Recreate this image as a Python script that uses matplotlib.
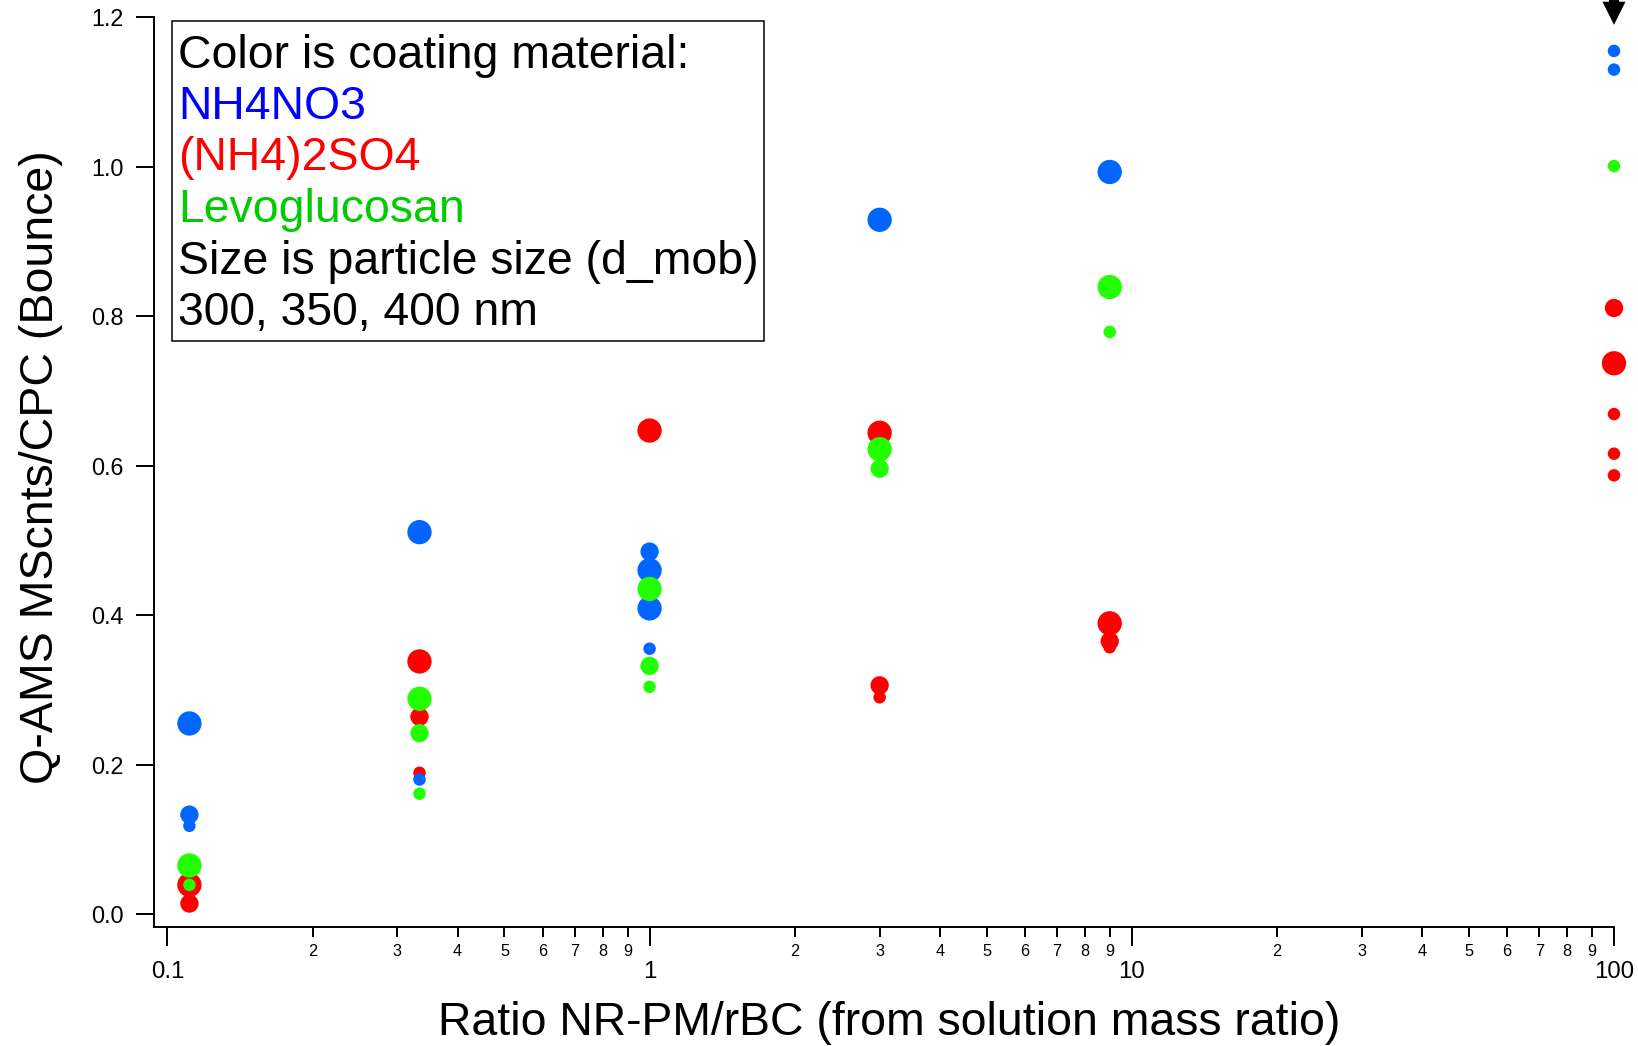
import numpy as np
import matplotlib
matplotlib.use("Agg")
import matplotlib.pyplot as plt
from matplotlib.patches import Rectangle
from matplotlib.ticker import LogLocator, FuncFormatter, MultipleLocator

plt.rcParams["font.family"] = ["Liberation Sans", "DejaVu Sans"]

# ---------------------------------------------------------------------------
# Data: ratio NR-PM/rBC, bounce value, particle size (nm)
# ---------------------------------------------------------------------------
nh4no3_ratio = [1/9, 1/9, 1/9, 1/3, 1/3, 1, 1, 1, 1, 3, 9, 100, 100]
nh4no3_bounce = [0.255, 0.133, 0.118, 0.511, 0.180, 0.485, 0.460, 0.409,
                 0.355, 0.929, 0.993, 1.155, 1.130]
nh4no3_dmob = [400, 350, 300, 400, 300, 350, 400, 400, 300, 400, 400, 300, 300]

ammsulf_ratio = [1/9, 1/9, 1/3, 1/3, 1/3, 1, 3, 3, 3, 9, 9, 9,
                 100, 100, 100, 100, 100]
ammsulf_bounce = [0.039, 0.014, 0.338, 0.264, 0.189, 0.647, 0.644, 0.306,
                  0.290, 0.389, 0.365, 0.357, 0.811, 0.737, 0.669, 0.616, 0.587]
ammsulf_dmob = [400, 350, 400, 350, 300, 400, 400, 350, 300, 400, 350, 300,
                350, 400, 300, 300, 300]

levo_ratio = [1/9, 1/9, 1/3, 1/3, 1/3, 1, 1, 1, 3, 3, 9, 9, 100]
levo_bounce = [0.065, 0.039, 0.288, 0.242, 0.161, 0.435, 0.332, 0.304,
               0.622, 0.596, 0.839, 0.779, 1.001]
levo_dmob = [400, 300, 400, 350, 300, 400, 350, 300, 400, 350, 400, 300, 300]

legend_lines = ["Color is coating material:", "NH4NO3", "(NH4)2SO4",
                "Levoglucosan", "Size is particle size (d_mob)", "300, 350, 400 nm"]

# marker diameter (points) for each particle size
marker_diam = {300: 9.0, 350: 13.2, 400: 17.5}

W, H = 1638, 1046
fig = plt.figure(figsize=(W / 100, H / 100), dpi=100)
ax = fig.add_axes([153.5 / W, 1 - 927.3 / H, (1614 - 153.5) / W, (927.3 - 17.3) / H])

# draw order: red, blue, green (green sits on top in the original)
series = [
    (ammsulf_ratio, ammsulf_bounce, ammsulf_dmob, "#FF0000"),
    (nh4no3_ratio, nh4no3_bounce, nh4no3_dmob, "#0066FF"),
    (levo_ratio, levo_bounce, levo_dmob, "#22FF00"),
]
for i, (xs, ys, ds, col) in enumerate(series):
    sizes = [marker_diam[d] ** 2 for d in ds]
    ax.scatter(xs, ys, s=sizes, c=col, edgecolors="none", clip_on=False,
               zorder=3 + i)

ax.set_xscale("log")
ax.set_xlim(0.0936, 100)
ax.set_ylim(-0.0178, 1.2)

for side in ("top", "right"):
    ax.spines[side].set_visible(False)
for side in ("left", "bottom"):
    ax.spines[side].set_linewidth(1.4)

ax.yaxis.set_major_locator(MultipleLocator(0.2))
ax.yaxis.set_major_formatter(FuncFormatter(lambda v, p: "%.1f" % v))
ax.xaxis.set_major_locator(LogLocator(base=10, numticks=12))
ax.xaxis.set_major_formatter(FuncFormatter(lambda v, p: "%g" % v))
ax.xaxis.set_minor_locator(LogLocator(base=10, subs=np.arange(2, 10), numticks=12))
ax.xaxis.set_minor_formatter(
    FuncFormatter(lambda v, p: "%d" % round(v / 10 ** np.floor(np.log10(v) + 1e-9))))

ax.tick_params(axis="y", which="major", direction="out", length=13, width=1.4,
               pad=8.4, labelsize=16.8)
ax.tick_params(axis="x", which="major", direction="out", length=13.7, width=1.4,
               pad=10.5, labelsize=17.3)
ax.tick_params(axis="x", which="minor", direction="out", length=7.2, width=1.4,
               pad=4.5, labelsize=11.7)

ax.set_xlabel("Ratio NR-PM/rBC (from solution mass ratio)", fontsize=33.4,
              va="baseline")
ax.xaxis.set_label_coords(0.504, -0.1184)
ax.set_ylabel("Q-AMS MScnts/CPC (Bounce)", fontsize=33.5, va="center")
ax.yaxis.set_label_coords(-0.077, 0.506)

# arrow at the top right
ax.annotate("", xy=(100, 1.19), xytext=(100, 1.226), annotation_clip=False,
            arrowprops=dict(arrowstyle="simple,head_width=0.83,head_length=0.83,tail_width=0.36",
                            fc="black", ec="none", shrinkA=0, shrinkB=0,
                            mutation_scale=20))

# text box with colored lines
box = Rectangle((172.4 / W, 1 - 340.6 / H), (763.7 - 172.4) / W, (340.6 - 20.9) / H,
                transform=fig.transFigure, fill=False, ec="black", lw=1.1, zorder=10)
fig.patches.append(box)
line_colors = ["black", "#0000FF", "#FF0000", "#00CC00", "black", "black"]
baselines = [68.1, 118.6, 169.5, 221.6, 273.5, 324.6]
for txt, col, yb in zip(legend_lines, line_colors, baselines):
    fig.text(178.4 / W, 1 - yb / H, txt, color=col, fontsize=33.4,
             ha="left", va="baseline")

fig.savefig("out.png", dpi=100)
